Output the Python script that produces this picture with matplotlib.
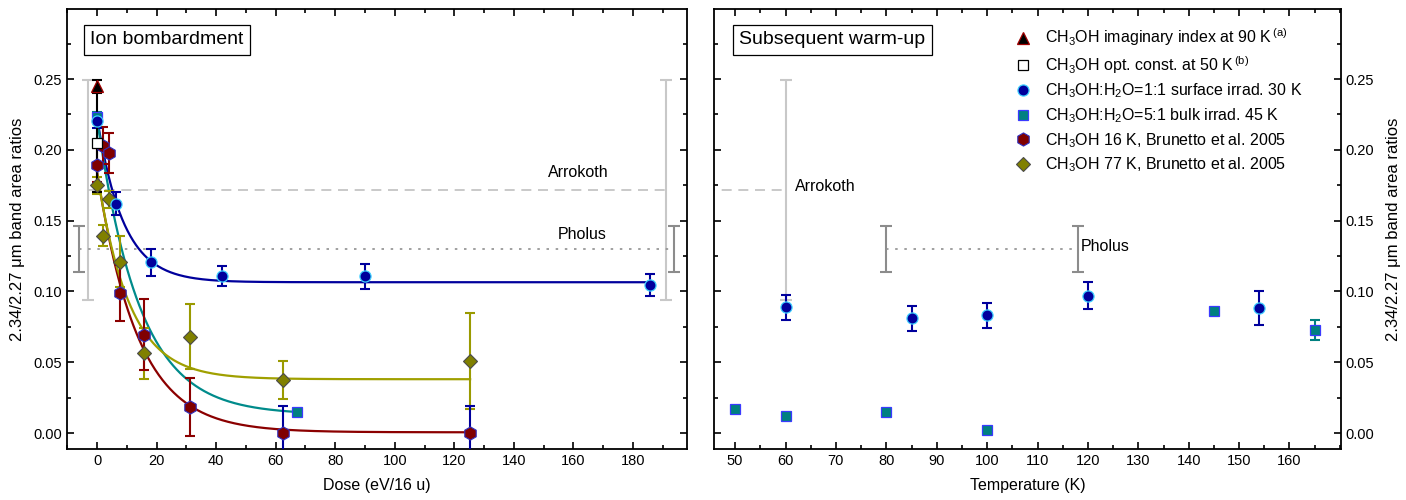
import numpy as np
import matplotlib.pyplot as plt
from matplotlib.ticker import MultipleLocator

plt.rcParams['font.family'] = ['Liberation Sans', 'DejaVu Sans']
plt.rcParams['mathtext.fontset'] = 'custom'
plt.rcParams['mathtext.rm'] = 'Liberation Sans'
plt.rcParams['mathtext.it'] = 'Liberation Sans:italic'

# ---- left panel: ion bombardment (dose in eV/16 u) ----
tri_dose = [0]
tri_ratio = [0.245]
tri_err = [0.004]

opt_dose = [0]
opt_ratio = [0.205]
opt_err = [0.035]

surf_dose = [0, 6.3, 18.0, 42.1, 90.0, 185.8]
surf_ratio = [0.2205, 0.162, 0.1206, 0.111, 0.1107, 0.1048]
surf_err = [0.005, 0.008, 0.0095, 0.007, 0.0087, 0.0077]

bulk_dose = [0, 67.1]
bulk_ratio = [0.223, 0.0146]
bulk_err = [0.004, 0.0]

b16_dose = [0, 2.1, 4.0, 7.7, 15.6, 31.3, 62.5, 125.3]
b16_ratio = [0.189, 0.203, 0.198, 0.099, 0.0694, 0.0187, 0.0, 0.0]
b16_err = [0.012, 0.013, 0.014, 0.020, 0.025, 0.0205, 0.019, 0.019]

b77_dose = [0, 1.9, 3.9, 7.7, 15.6, 31.3, 62.5, 125.3]
b77_ratio = [0.175, 0.1395, 0.165, 0.121, 0.0564, 0.068, 0.0375, 0.051]
b77_err = [0.006, 0.0075, 0.006, 0.018, 0.018, 0.023, 0.0135, 0.034]

# exponential fits: (start value, e-folding dose, plateau, last dose)
surf_fit = (0.2225, 8.8, 0.1065, 185.8)
bulk_fit = (0.222, 14.2, 0.013, 67.1)
b16_fit = (0.184, 13.7, 0.0005, 125.3)
b77_fit = (0.184, 10.8, 0.038, 125.3)

# ---- right panel: subsequent warm-up (temperature in K) ----
warm_surf_T = [60, 85, 100, 120, 154]
warm_surf_ratio = [0.0888, 0.081, 0.083, 0.097, 0.088]
warm_surf_err = [0.009, 0.009, 0.009, 0.0095, 0.012]

warm_bulk_T = [50, 60, 80, 100, 145, 165]
warm_bulk_ratio = [0.017, 0.012, 0.015, 0.002, 0.086, 0.073]
warm_bulk_err = [0.002, 0.002, 0.002, 0.002, 0.002, 0.007]

# observed objects: mean, half range
arrokoth = (0.1716, 0.0776)
pholus = (0.1300, 0.0165)

navy = '#00009c'
teal = '#008080'
dred = '#800000'
olive = '#808000'

fig = plt.figure(figsize=(14.06, 5.0), dpi=100)
ax1 = fig.add_axes([0.0477, 0.102, 0.441, 0.880])
ax2 = fig.add_axes([0.5078, 0.102, 0.4459, 0.880])

ylim = (-0.0113, 0.2995)

# --- reference lines left
ax1.errorbar([-3.1, 191.0], [arrokoth[0]] * 2, yerr=arrokoth[1], fmt='none',
             ecolor='#c8c8c8', elinewidth=1.5, capsize=4, capthick=1.5, zorder=1)
ax1.plot([-3.1, 191.0], [arrokoth[0]] * 2, color='#c0c0c0', lw=1.2,
         dashes=(6, 4), zorder=1)
ax1.errorbar([-6.0, 193.9], [pholus[0]] * 2, yerr=pholus[1], fmt='none',
             ecolor='#8c8c8c', elinewidth=1.5, capsize=4, capthick=1.5, zorder=1)
ax1.plot([-6.0, 193.9], [pholus[0]] * 2, color='#909090', lw=1.2,
         dashes=(1.5, 4), zorder=1)
ax1.text(151.5, 0.184, 'Arrokoth', fontsize=11.5, va='center', ha='left')
ax1.text(154.9, 0.140, 'Pholus', fontsize=11.5, va='center', ha='left')

# --- fits
def draw_fit(ax, fit, color):
    y0, tau, c, xend = fit
    xs = np.linspace(0, xend, 400)
    ax.plot(xs, c + (y0 - c) * np.exp(-xs / tau), color=color, lw=1.6, zorder=2)

draw_fit(ax1, surf_fit, navy)
draw_fit(ax1, bulk_fit, '#008b8b')
draw_fit(ax1, b16_fit, '#8b0000')
draw_fit(ax1, b77_fit, '#a0a000')

# --- error bars
eb = dict(fmt='none', elinewidth=1.5, capsize=3.5, capthick=1.5, zorder=3)
ax1.errorbar(b77_dose, b77_ratio, yerr=b77_err, ecolor='#9a9a00', **eb)
b16_ecol = ['#8b0000'] * 6 + [navy] * 2
for x, y, e, c in zip(b16_dose, b16_ratio, b16_err, b16_ecol):
    ax1.errorbar([x], [y], yerr=[e], ecolor=c, **eb)
ax1.errorbar(bulk_dose, bulk_ratio, yerr=bulk_err, ecolor=teal, **eb)
ax1.errorbar(surf_dose, surf_ratio, yerr=surf_err, ecolor=navy, **eb)
ax1.errorbar(opt_dose, opt_ratio, yerr=opt_err, ecolor='black', **eb)
ax1.errorbar(tri_dose, tri_ratio, yerr=tri_err, ecolor='black', **eb)

# --- markers
h77, = ax1.plot(b77_dose, b77_ratio, 'D', ms=7.5, mfc=olive, mec='#4a4a4a',
                mew=0.8, ls='none', zorder=5,
                label='CH$_3$OH 77 K, Brunetto et al. 2005')
h16, = ax1.plot(b16_dose, b16_ratio, 'h', ms=9.5, mfc=dred, mec='#3030c0',
                mew=0.8, ls='none', zorder=5,
                label='CH$_3$OH 16 K, Brunetto et al. 2005')
hbulk, = ax1.plot(bulk_dose, bulk_ratio, 's', ms=7, mfc=teal, mec='#3a3aff',
                  mew=0.9, ls='none', zorder=6,
                  label='CH$_3$OH:H$_2$O=5:1 bulk irrad. 45 K')
hsurf, = ax1.plot(surf_dose, surf_ratio, 'o', ms=8, mfc=navy, mec='#40d0ff',
                  mew=0.9, ls='none', zorder=6,
                  label='CH$_3$OH:H$_2$O=1:1 surface irrad. 30 K')
hopt, = ax1.plot(opt_dose, opt_ratio, 's', ms=6.5, mfc='white', mec='black',
                 mew=0.9, ls='none', zorder=7,
                 label='CH$_3$OH opt. const. at 50 K$^{\\,\\mathrm{(b)}}$')
htri, = ax1.plot(tri_dose, tri_ratio, '^', ms=8.5, mfc='black', mec='#a00000',
                 mew=0.9, ls='none', zorder=7,
                 label='CH$_3$OH imaginary index at 90 K$^{\\,\\mathrm{(a)}}$')

ax1.set_xlim(-10.1, 198.2)
ax1.set_ylim(*ylim)
ax1.set_xticks(np.arange(0, 181, 20))
ax1.xaxis.set_minor_locator(MultipleLocator(10))
ax1.yaxis.set_major_locator(MultipleLocator(0.05))
ax1.yaxis.set_minor_locator(MultipleLocator(0.025))
ax1.tick_params(which='both', direction='in', top=True, right=True,
                labelsize=10.5, width=1.2)
ax1.tick_params(which='major', length=5)
ax1.tick_params(which='minor', length=3)
ax1.set_xlabel('Dose (eV/16 u)', fontsize=11.5, labelpad=7)
ax1.set_ylabel('2.34/2.27 \u03bcm band area ratios', fontsize=12, labelpad=6)
ax1.text(0.037, 0.93, 'Ion bombardment', transform=ax1.transAxes,
         fontsize=14, va='center', ha='left',
         bbox=dict(boxstyle='square,pad=0.33', fc='white', ec='black', lw=0.9))

# --- right panel
ax2.errorbar([60], [arrokoth[0]], yerr=arrokoth[1], fmt='none',
             ecolor='#c8c8c8', elinewidth=1.5, capsize=4, capthick=1.5, zorder=1)
ax2.plot([44, 60], [arrokoth[0]] * 2, color='#c0c0c0', lw=1.2,
         dashes=(6, 4), zorder=1)
ax2.errorbar([80, 118], [pholus[0]] * 2, yerr=pholus[1], fmt='none',
             ecolor='#8c8c8c', elinewidth=1.5, capsize=4, capthick=1.5, zorder=1)
ax2.plot([80, 118], [pholus[0]] * 2, color='#909090', lw=1.2,
         dashes=(1.5, 4), zorder=1)
ax2.text(61.8, 0.174, 'Arrokoth', fontsize=11.5, va='center', ha='left')
ax2.text(118.6, 0.132, 'Pholus', fontsize=11.5, va='center', ha='left')

ax2.errorbar(warm_bulk_T, warm_bulk_ratio, yerr=warm_bulk_err, ecolor=teal, **eb)
ax2.errorbar(warm_surf_T, warm_surf_ratio, yerr=warm_surf_err, ecolor=navy, **eb)
ax2.plot(warm_bulk_T, warm_bulk_ratio, 's', ms=7, mfc=teal, mec='#3a3aff',
         mew=0.9, ls='none', zorder=6)
ax2.plot(warm_surf_T, warm_surf_ratio, 'o', ms=8, mfc=navy, mec='#40d0ff',
         mew=0.9, ls='none', zorder=6)

ax2.set_xlim(45.8, 170.2)
ax2.set_ylim(*ylim)
ax2.set_xticks(np.arange(50, 161, 10))
ax2.xaxis.set_minor_locator(MultipleLocator(5))
ax2.yaxis.set_major_locator(MultipleLocator(0.05))
ax2.yaxis.set_minor_locator(MultipleLocator(0.025))
ax2.tick_params(which='both', direction='in', top=True, right=True,
                left=True, labelleft=False, labelright=True,
                labelsize=10.5, width=1.2)
ax2.tick_params(which='major', length=5)
ax2.tick_params(which='minor', length=3)
ax2.set_xlabel('Temperature (K)', fontsize=11.5, labelpad=7)
ax2.yaxis.set_label_position('right')
ax2.set_ylabel('2.34/2.27 \u03bcm band area ratios', fontsize=12,
               rotation=90, labelpad=8)
ax2.text(0.04, 0.93, 'Subsequent warm-up', transform=ax2.transAxes,
         fontsize=14, va='center', ha='left',
         bbox=dict(boxstyle='square,pad=0.33', fc='white', ec='black', lw=0.9))

ax2.legend(handles=[htri, hopt, hsurf, hbulk, h16, h77], loc='upper left',
           bbox_to_anchor=(0.465, 0.982), frameon=False, fontsize=11.5,
           handlelength=1.0, handletextpad=0.9, labelspacing=0.37,
           borderaxespad=0.2)

for ax in (ax1, ax2):
    for s in ax.spines.values():
        s.set_linewidth(1.3)

fig.savefig('out.png', dpi=100)
